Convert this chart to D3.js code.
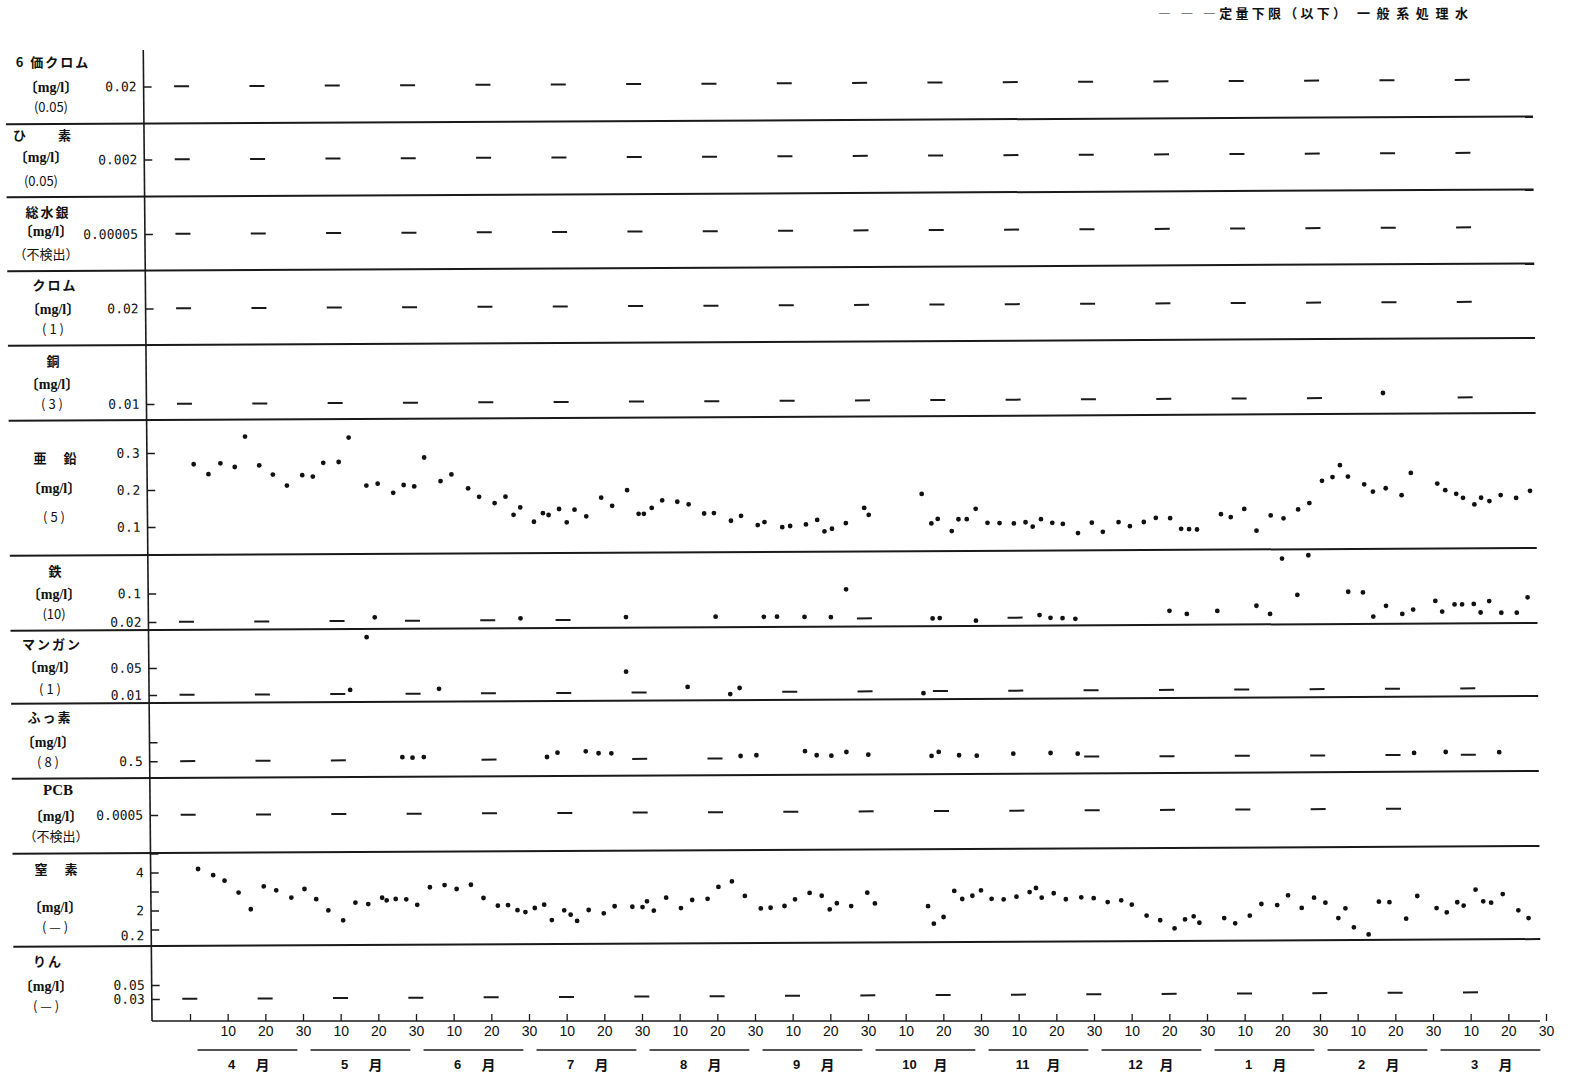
<!DOCTYPE html>
<html lang="ja">
<head>
<meta charset="UTF-8" />
<title>一般系処理水 水質経月変化</title>
<script src="https://d3js.org/d3.v7.min.js"></script>
<style>
  body { margin: 0; background: #fff; }
  text { fill: #111; }
</style>
</head>
<body>
<svg id="chart" width="1570" height="1076"></svg>
<script>
// ---- data (days counted from 1 Apr, 30 days per month) ----
const months = ["4", "5", "6", "7", "8", "9", "10", "11", "12", "1", "2", "3"];
const names = ["6 価クロム", "ひ　　素", "総水銀", "クロム", "銅", "亜　鉛", "鉄", "マンガン", "ふっ素", "PCB", "窒　素", "りん"];
const limits = ["(0.05)", "(0.05)", "（不検出）", "( 1 )", "( 3 )", "( 5 )", "(10)", "( 1 )", "( 8 )", "（不検出）", "( — )", "( — )"];
const tickVals = [[0.02], [0.002], [0.00005], [0.02], [0.01], [0.1, 0.2, 0.3], [0.02, 0.1], [0.01, 0.05], [0.5, 1], [0.0005], [1, 2, 3, 4, 5], [0.03, 0.05]];
const tickLabels = [["0.02"], ["0.002"], ["0.00005"], ["0.02"], ["0.01"], ["0.1", "0.2", "0.3"], ["0.02", "0.1"], ["0.01", "0.05"], ["0.5", ""], ["0.0005"], ["", "2", "", "4", ""], ["0.03", "0.05"]];
// quantitation lower limit, drawn as a dash when the result is below it
const lowerLimit = [0.02, 0.002, 0.00005, 0.02, 0.01, null, 0.02, 0.01, 0.5, 0.0005, null, 0.03];
const limitDays = [
  [0, 20, 40, 60, 80, 100, 120, 140, 160, 180, 200, 220, 240, 260, 280, 300, 320, 340],
  [0, 20, 40, 60, 80, 100, 120, 140, 160, 180, 200, 220, 240, 260, 280, 300, 320, 340],
  [0, 20, 40, 60, 80, 100, 120, 140, 160, 180, 200, 220, 240, 260, 280, 300, 320, 340],
  [0, 20, 40, 60, 80, 100, 120, 140, 160, 180, 200, 220, 240, 260, 280, 300, 320, 340],
  [0, 20, 40, 60, 80, 100, 120, 140, 160, 180, 200, 220, 240, 260, 280, 300, 340],
  [],
  [0, 20, 40, 60, 80, 100, 180, 220],
  [0, 20, 40, 60, 80, 100, 120, 160, 180, 200, 220, 240, 260, 280, 300, 320, 340],
  [0, 20, 40, 80, 120, 140, 240, 260, 280, 300, 320, 340],
  [0, 20, 40, 60, 80, 100, 120, 140, 160, 180, 200, 220, 240, 260, 280, 300, 320],
  [],
  [0, 20, 40, 60, 80, 100, 120, 140, 160, 180, 200, 220, 240, 260, 280, 300, 320, 340]
];

const copperDays = [318.2];
const copperVals = [0.013];

const zincDays = [2.3, 6.2, 9.4, 13.2, 16.0, 19.7, 23.3, 27.0, 31.1, 33.9, 36.7, 40.8, 43.5, 48.1, 51.1, 55.2, 58.0, 60.8, 63.5, 67.8,
  70.7, 75.1, 78.0, 82.1, 85.0, 87.1, 88.9, 92.5, 94.9, 96.4, 99.2, 101.2, 103.3, 106.4, 110.4, 113.3, 117.3, 120.3, 121.7, 123.8,
  126.6, 130.6, 133.6, 137.7, 140.3, 144.8, 147.5, 151.9, 153.7, 158.4, 160.5, 164.7, 167.7, 169.6, 171.6, 175.3, 180.2, 181.4,
  195.5, 198.0, 199.7, 203.4, 205.2, 207.4, 209.8, 212.9, 216.1, 219.9, 223.0, 224.9, 227.1, 230.1, 232.9, 236.9, 240.6, 243.5,
  247.7, 250.7, 254.4, 257.6, 261.4, 264.3, 266.4, 268.5, 274.9, 277.5, 281.1, 284.3, 288.1, 291.5, 295.4, 298.4, 301.8, 304.6,
  306.6, 308.7, 313.0, 315.3, 318.7, 322.9, 325.4, 332.4, 334.5, 337.4, 339.2, 342.2, 344.0, 346.2, 349.2, 353.3, 357.0];
const zincVals = [0.269, 0.242, 0.271, 0.261, 0.343, 0.265, 0.240, 0.210, 0.238, 0.234, 0.271, 0.273, 0.339, 0.209, 0.214, 0.189, 0.210, 0.206, 0.284, 0.220,
  0.238, 0.200, 0.177, 0.160, 0.177, 0.128, 0.148, 0.109, 0.132, 0.127, 0.143, 0.107, 0.141, 0.123, 0.173, 0.151, 0.193, 0.129, 0.129, 0.145,
  0.165, 0.161, 0.154, 0.129, 0.130, 0.109, 0.122, 0.097, 0.105, 0.091, 0.094, 0.098, 0.110, 0.079, 0.086, 0.101, 0.142, 0.123,
  0.179, 0.099, 0.111, 0.078, 0.110, 0.110, 0.138, 0.100, 0.099, 0.098, 0.101, 0.089, 0.109, 0.099, 0.096, 0.071, 0.099, 0.074,
  0.100, 0.089, 0.100, 0.111, 0.110, 0.081, 0.080, 0.079, 0.120, 0.112, 0.134, 0.075, 0.116, 0.108, 0.132, 0.149, 0.209, 0.219,
  0.251, 0.220, 0.199, 0.179, 0.188, 0.169, 0.229, 0.200, 0.182, 0.172, 0.161, 0.143, 0.161, 0.152, 0.168, 0.160, 0.179];

const ironDays = [50.0, 88.7, 116.7, 140.5, 153.3, 156.8, 164.1, 171.1, 175.2, 198.1, 200.0, 209.6, 226.5, 229.4, 232.6, 236.0, 261.0, 265.6, 273.7, 284.1,
  287.7, 291.0, 295.0, 298.0, 308.5, 312.4, 315.1, 318.5, 322.8, 325.7, 331.6, 333.4, 336.7, 338.7, 341.8, 343.6, 345.9, 349.1, 353.2, 356.1];
const ironVals = [0.030, 0.025, 0.027, 0.027, 0.026, 0.026, 0.025, 0.024, 0.102, 0.019, 0.020, 0.012, 0.027, 0.019, 0.018, 0.016, 0.037, 0.028, 0.036, 0.050,
  0.027, 0.182, 0.080, 0.191, 0.088, 0.086, 0.018, 0.048, 0.025, 0.037, 0.061, 0.031, 0.051, 0.051, 0.052, 0.028, 0.060, 0.027, 0.027, 0.070];

const mnDays = [43.3, 47.8, 66.9, 116.6, 132.9, 144.2, 146.7, 195.5];
const mnVals = [0.016, 0.094, 0.017, 0.041, 0.018, 0.007, 0.016, 0.007];

const fDays = [57.0, 59.7, 62.7, 95.4, 98.2, 105.7, 109.1, 112.5, 146.8, 151.0, 163.9, 167.0, 170.9, 174.9, 180.7, 197.5, 199.4, 204.8, 209.5, 219.2,
  229.1, 236.3, 325.6, 334.0, 348.2];
const fVals = [0.574, 0.561, 0.576, 0.561, 0.674, 0.705, 0.653, 0.650, 0.561, 0.579, 0.679, 0.571, 0.558, 0.653, 0.579, 0.537, 0.642, 0.553, 0.539, 0.587,
  0.600, 0.579, 0.553, 0.574, 0.561];

const nDays = [2.5, 6.5, 9.5, 13.2, 16.4, 19.9, 23.2, 27.2, 30.7, 33.8, 37.0, 40.9, 44.2, 47.6, 51.3, 52.5, 54.9, 57.7, 60.6, 64.0,
  67.9, 71.1, 74.9, 78.2, 82.0, 84.7, 87.2, 89.3, 91.8, 94.3, 96.3, 99.6, 101.3, 103.0, 106.1, 110.1, 113.0, 117.7, 120.4, 121.6,
  123.4, 126.7, 130.6, 133.6, 137.7, 140.6, 144.2, 147.6, 151.8, 154.4, 158.1, 160.9, 164.8, 168.0, 170.1, 172.0, 175.8, 180.1, 182.1, 196.2,
  197.7, 200.3, 203.2, 205.3, 208.0, 210.3, 213.1, 216.3, 219.7, 223.2, 224.9, 226.4, 229.6, 232.8, 236.9, 240.2, 243.9, 247.5, 250.3, 254.2,
  257.8, 261.6, 264.4, 266.7, 268.2, 274.8, 277.7, 281.6, 284.7, 288.9, 291.8, 295.4, 298.7, 301.7, 305.1, 307.0, 309.2, 313.1, 315.9, 318.7,
  323.1, 326.1, 331.2, 333.9, 336.7, 338.4, 341.6, 343.6, 345.7, 348.8, 352.9, 355.6];
const nVals = [4.17, 3.84, 3.55, 2.92, 2.04, 3.24, 3.03, 2.64, 3.09, 2.55, 1.96, 1.43, 2.36, 2.28, 2.61, 2.47, 2.54, 2.52, 2.23, 3.15,
  3.26, 3.05, 3.27, 2.57, 2.16, 2.19, 1.92, 1.82, 2.03, 2.20, 1.39, 1.90, 1.67, 1.34, 1.91, 1.73, 2.10, 2.07, 2.05, 2.35,
  1.86, 2.54, 1.99, 2.41, 2.47, 3.09, 3.38, 2.61, 1.95, 1.98, 2.07, 2.42, 2.75, 2.60, 1.88, 2.20, 2.05, 2.75, 2.18, 2.02,
  1.10, 1.45, 2.82, 2.39, 2.56, 2.84, 2.39, 2.36, 2.50, 2.74, 2.95, 2.44, 2.67, 2.35, 2.45, 2.40, 2.19, 2.28, 2.05, 1.47,
  1.22, 0.79, 1.26, 1.42, 1.08, 1.32, 1.04, 1.44, 2.05, 1.99, 2.50, 1.83, 2.37, 2.10, 1.29, 1.80, 0.80, 0.42, 2.14, 2.11,
  1.24, 2.43, 1.79, 1.56, 2.09, 1.91, 2.75, 2.13, 2.06, 2.51, 1.65, 1.24];

// ---- layout ----
const svg = d3.select("#chart");
svg.append("rect").attr("width", 1570).attr("height", 1076).attr("fill", "#fff");

const x = d3.scaleLinear().domain([0, 360]).range([190, 1546]);
const axisX = 152;

// panel bands [top, bottom]
const bands = [[50, 123.5], [123.5, 196.5], [196.5, 270.5], [270.5, 345], [345, 420], [420, 555],
  [555, 630], [630, 703], [703, 778], [778, 853], [853, 946], [946, 1021]];

const yScales = [
  d3.scaleLinear([0, 0.02], [123.5, 86.5]),
  d3.scaleLinear([0, 0.002], [196.5, 159.5]),
  d3.scaleLinear([0, 0.00005], [270.5, 234]),
  d3.scaleLinear([0, 0.02], [345, 308.5]),
  d3.scaleLinear([0, 0.01], [420, 404]),
  d3.scaleLinear([0.1, 0.3], [527, 453]),
  d3.scaleLinear([0.02, 0.1], [622, 593.5]),
  d3.scaleLinear([0.01, 0.05], [695, 668]),
  d3.scaleLinear([0.5, 1], [761.3, 742.3]),
  d3.scaleLinear([0, 0.0005], [853, 815]),
  d3.scaleLinear([1, 5], [929.5, 853.5]),
  d3.scaleLinear([0.03, 0.05], [999, 985])
];

// label positions on the left: [centre x, name y, unit y, limit y]
const labelPos = [[53, 63, 89, 108], [43, 136, 159, 182], [48, 213, 233, 255], [55, 286, 311, 330],
  [54, 362, 386, 405], [56, 459, 490, 518], [56, 572, 596, 615], [52, 645, 669, 690],
  [50, 718, 744, 763], [58, 792, 818, 837], [57, 870, 909, 928], [48, 962, 988, 1007]];

// the printed page is slightly skewed in the scan
const page = svg.append("g").attr("transform", "matrix(1,-0.005,0.009,1,-9.18,0.75)");

// separators
page.append("g").selectAll("line").data(bands.slice(0, 11)).join("line")
  .attr("x1", 14).attr("x2", 1541)
  .attr("y1", d => d[1]).attr("y2", d => d[1])
  .attr("stroke", "#1a1a1a").attr("stroke-width", 2);

// vertical axis
page.append("line").attr("x1", axisX).attr("x2", axisX).attr("y1", 50).attr("y2", 1021)
  .attr("stroke", "#1a1a1a").attr("stroke-width", 1.6);

yScales.forEach((y, i) => {
  const ax = d3.axisLeft(y).tickValues(tickVals[i])
    .tickFormat((d, j) => tickLabels[i][j])
    .tickSizeInner(-8).tickSizeOuter(0).tickPadding(7);
  const g = page.append("g").attr("transform", `translate(${axisX},0)`).call(ax);
  g.select(".domain").remove();
  g.selectAll(".tick line").attr("stroke", "#1a1a1a").attr("stroke-width", 1.4);
  g.selectAll(".tick text").attr("font-family", "'DejaVu Sans Mono', monospace")
    .attr("font-size", 13).attr("fill", "#111");

  // below-limit dashes
  if (lowerLimit[i] !== null) {
    page.append("g").selectAll("line").data(limitDays[i]).join("line")
      .attr("x1", d => x(d) - 7.5).attr("x2", d => x(d) + 7.5)
      .attr("y1", y(lowerLimit[i])).attr("y2", y(lowerLimit[i]))
      .attr("stroke", "#1a1a1a").attr("stroke-width", 2);
  }
});

// extra label at the foot of the nitrogen scale
page.append("text").attr("x", axisX - 7).attr("y", yScales[10](0.2) - 8)
  .attr("text-anchor", "end").attr("dominant-baseline", "middle")
  .attr("font-family", "'DejaVu Sans Mono', monospace").attr("font-size", 13)
  .text("0.2");

// measured values
const series = [
  { panel: 4, days: copperDays, vals: copperVals },
  { panel: 5, days: zincDays, vals: zincVals },
  { panel: 6, days: ironDays, vals: ironVals },
  { panel: 7, days: mnDays, vals: mnVals },
  { panel: 8, days: fDays, vals: fVals },
  { panel: 10, days: nDays, vals: nVals }
];
series.forEach(s => {
  page.append("g").selectAll("circle").data(d3.zip(s.days, s.vals)).join("circle")
    .attr("cx", d => x(d[0]))
    .attr("cy", d => yScales[s.panel](d[1]))
    .attr("r", 2.4).attr("fill", "#111");
});

// left labels
const lab = svg.append("g");
names.forEach((n, i) => {
  const p = labelPos[i];
  lab.append("text").attr("x", p[0]).attr("y", p[1]).attr("text-anchor", "middle")
    .attr("dominant-baseline", "middle")
    .attr("font-family", i === 9 ? "'Liberation Serif', serif" : "'Noto Sans CJK JP', sans-serif")
    .attr("font-weight", 700).attr("font-size", i === 9 ? 15 : 13)
    .attr("letter-spacing", i === 9 ? 0 : 2)
    .text(n);
  lab.append("text").attr("x", p[0] - 2).attr("y", p[2]).attr("text-anchor", "middle")
    .attr("dominant-baseline", "middle")
    .attr("font-family", "'Liberation Serif', 'Noto Sans CJK JP', serif")
    .attr("font-weight", 700).attr("font-size", 14)
    .text("〔mg/l〕");
  lab.append("text").attr("x", p[0] - 2).attr("y", p[3]).attr("text-anchor", "middle")
    .attr("dominant-baseline", "middle")
    .attr("font-family", "'Noto Sans CJK JP', sans-serif").attr("font-size", 13)
    .text(limits[i]);
});

// bottom axis (day of month)
const xAxis = d3.axisBottom(x).tickValues(d3.range(0, 361, 10))
  .tickFormat(d => d === 0 ? "" : String(d % 30 === 0 ? 30 : d % 30))
  .tickSizeInner(-7).tickSizeOuter(0).tickPadding(5);
const xg = svg.append("g").attr("transform", "translate(0,1021)").call(xAxis);
xg.select(".domain").remove();
xg.selectAll(".tick line").attr("stroke", "#1a1a1a").attr("stroke-width", 1.3);
xg.selectAll(".tick text").attr("font-family", "'Liberation Sans', sans-serif")
  .attr("font-size", 14).attr("fill", "#111");
svg.append("line").attr("x1", axisX).attr("x2", 1540).attr("y1", 1021).attr("y2", 1021)
  .attr("stroke", "#1a1a1a").attr("stroke-width", 1.6);

// month labels
const mg = svg.append("g");
months.forEach((m, i) => {
  const c = x(i * 30 + 15);
  mg.append("line").attr("x1", x(i * 30 + 2)).attr("x2", x(i * 30 + 28.5))
    .attr("y1", 1050).attr("y2", 1050).attr("stroke", "#1a1a1a").attr("stroke-width", 1.5);
  mg.append("text").attr("x", c - 15).attr("y", 1066).attr("text-anchor", "middle")
    .attr("dominant-baseline", "middle").attr("font-family", "'Liberation Sans', sans-serif")
    .attr("font-weight", 700).attr("font-size", 13).text(m);
  mg.append("text").attr("x", c + 16).attr("y", 1066).attr("text-anchor", "middle")
    .attr("dominant-baseline", "middle").attr("font-family", "'Noto Sans CJK JP', sans-serif")
    .attr("font-weight", 700).attr("font-size", 14).text("月");
});

// legend
const lg = svg.append("g").attr("font-family", "'Noto Sans CJK JP', sans-serif")
  .attr("font-weight", 700).attr("font-size", 13);
lg.append("text").attr("x", 1158).attr("y", 14).attr("dominant-baseline", "middle")
  .attr("textLength", 188).attr("lengthAdjust", "spacing").text("— — —定量下限（以下）");
lg.append("text").attr("x", 1357).attr("y", 14).attr("dominant-baseline", "middle")
  .attr("textLength", 111).attr("lengthAdjust", "spacing").text("一般系処理水");
</script>
</body>
</html>
